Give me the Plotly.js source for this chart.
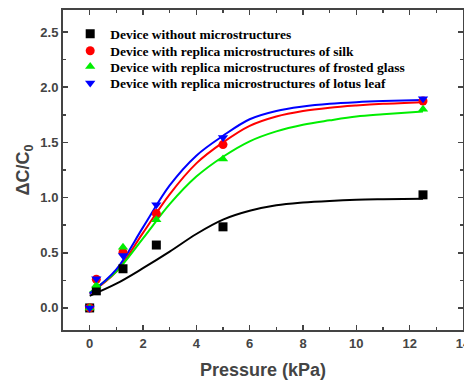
<!DOCTYPE html>
<html><head><meta charset="utf-8">
<script src="https://cdn.plot.ly/plotly-3.0.1.min.js"></script>
<style>html,body{margin:0;padding:0;background:#fff}#chart{width:464px;height:380px}</style>
</head><body><div id="chart"></div>
<script>
// Measured data
const pressure = [0, 0.25, 1.25, 2.5, 5, 12.5];
const noMicro = [0, 0.155, 0.355, 0.57, 0.735, 1.025];
const silk    = [0, 0.26, 0.505, 0.855, 1.48, 1.875];
const frosted = [0, 0.205, 0.55, 0.80, 1.35, 1.80];
const lotus   = [0, 0.265, 0.475, 0.935, 1.545, 1.895];

// Fitted curves
const fitX = [0, 1, 2, 3, 4, 5, 6, 7, 8, 9, 10, 11, 12.5];
const fitNoMicro = [0.11, 0.22, 0.36, 0.51, 0.67, 0.80, 0.88, 0.93, 0.955, 0.97, 0.98, 0.985, 0.99];
const fitSilk    = [0.13, 0.33, 0.68, 1.03, 1.31, 1.50, 1.65, 1.735, 1.785, 1.815, 1.835, 1.85, 1.865];
const fitFrosted = [0.14, 0.33, 0.63, 0.94, 1.19, 1.37, 1.51, 1.60, 1.66, 1.70, 1.735, 1.755, 1.78];
const fitLotus   = [0.13, 0.35, 0.73, 1.11, 1.38, 1.56, 1.71, 1.785, 1.825, 1.85, 1.865, 1.875, 1.885];

const names = ['Device without microstructures','Device with replica microstructures of silk',
  'Device with replica microstructures of frosted glass','Device with replica microstructures of lotus leaf'];
const colors = ['#000000','#ff0000','#00ee00','#0000ff'];
const symbols = ['square','circle','triangle-up','triangle-down'];
const pts = [noMicro, silk, frosted, lotus];
const fits = [fitNoMicro, fitSilk, fitFrosted, fitLotus];
const legendIds = ['legend','legend2','legend3','legend4'];

const traces = [];
fits.forEach((f,i)=>traces.push({x: fitX, y: f, mode:'lines', line:{color:colors[i], width:2, shape:'spline'}, showlegend:false, hoverinfo:'skip'}));
pts.forEach((p,i)=>traces.push({x: pressure, y: p, mode:'markers', name:names[i], legend:legendIds[i],
  marker:{symbol:symbols[i], color:colors[i], size:9}}));

const axisCommon = {showgrid:false, zeroline:false, showline:true, linecolor:'#444', linewidth:2,
  mirror:'ticks', ticks:'inside', ticklen:5, tickwidth:1.5, tickcolor:'#444', ticklabeloverflow:'allow',
  tickfont:{family:'Liberation Sans, Arial, sans-serif', size:13, color:'#444', weight:'bold'}};
const titleFont = {family:'Liberation Sans, Arial, sans-serif', size:18, color:'#444', weight:'bold'};
const legFont = {family:'Liberation Serif, Times New Roman, serif', size:13.5, color:'#000', weight:'bold'};
const rowY = [0.925, 0.872, 0.823, 0.771];

const layout = {
  width:464, height:380, margin:{l:63, r:1, t:10, b:50},
  paper_bgcolor:'#fff', plot_bgcolor:'#fff',
  xaxis: Object.assign({}, axisCommon, {range:[-1,14], tickvals:[0,2,4,6,8,10,12,14],
    minor:{dtick:1, ticks:'inside', ticklen:3, tickcolor:'#444'},
    title:{text:'Pressure (kPa)', standoff:15, font:titleFont}}),
  yaxis: Object.assign({}, axisCommon, {range:[-0.2,2.7], tickvals:[0,0.5,1,1.5,2,2.5], tickformat:'.1f',
    minor:{dtick:0.25, ticks:'inside', ticklen:3, tickcolor:'#444'},
    title:{text:'ΔC/C<sub>0</sub>', standoff:6, font:titleFont}}),
  showlegend:true
};
legendIds.forEach((id,i)=>{
  layout[id] = {x:0.018, y:rowY[i], xanchor:'left', yanchor:'middle', bgcolor:'rgba(0,0,0,0)', font:legFont, itemwidth:30};
});
Plotly.newPlot('chart', traces, layout, {displayModeBar:false, staticPlot:true});
</script></body></html>
